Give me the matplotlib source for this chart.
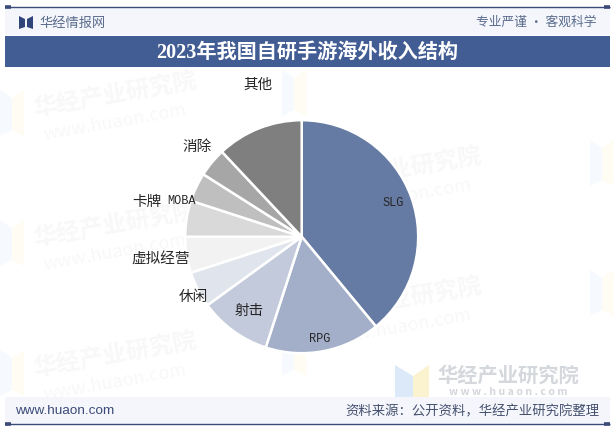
import matplotlib
matplotlib.use("Agg")
import matplotlib.pyplot as plt
from matplotlib.patches import Rectangle, Polygon

CJK = ['Noto Sans CJK SC', 'DejaVu Sans']
SERIF_CJK = ['Liberation Serif', 'Noto Sans CJK SC']
plt.rcParams['font.family'] = CJK

categories = ['SLG', 'RPG', '射击', '休闲', '虚拟经营', '卡牌', 'MOBA', '消除', '其他']
shares = [39, 16, 10, 5, 5, 5, 4, 4, 12]
colors = ['#667BA3', '#A3AFC8', '#C2CADB', '#E0E4ED', '#F2F2F2',
          '#D9D9D9', '#BFBFBF', '#A6A6A6', '#7F7F7F']
title = '2023年我国自研手游海外收入结构'

W, H = 615, 436
fig = plt.figure(figsize=(W / 100, H / 100), dpi=100, facecolor='white')

bg = fig.add_axes([0, 0, 1, 1], zorder=0)
bg.set_xlim(0, W)
bg.set_ylim(H, 0)
bg.axis('off')

NAVY = '#3B4A78'
# bands
bg.add_patch(Rectangle((5, 8), 605, 27, fc='#F4F6FB', ec='none'))
bg.add_patch(Rectangle((5, 36), 605, 31, fc='#425C94', ec='none'))
bg.add_patch(Rectangle((5, 397), 605, 27, fc='#F4F6FB', ec='none', zorder=0.7))
# rules with thick ends
for y in (7.5, 424):
    bg.plot([5, 610], [y, y], color=NAVY, lw=1.0, solid_capstyle='butt', zorder=2)
    bg.plot([5, 11], [y, y], color=NAVY, lw=2.6, solid_capstyle='butt', zorder=2)
    bg.plot([604, 610], [y, y], color=NAVY, lw=2.6, solid_capstyle='butt', zorder=2)

# watermarks
WM = '#F8F8F9'
for x, y in [(115, 95), (115, 225), (115, 355), (400, 170), (400, 300)]:
    bg.text(x, y, '华经产业研究院', fontsize=17, fontweight='bold', color=WM, rotation=10,
            ha='center', va='center', zorder=0.5)
    bg.text(x, y + 27, 'www.huaon.com', fontsize=13, color=WM, rotation=10,
            ha='center', va='center', zorder=0.5)
for x, y in [(0, 90), (0, 220), (0, 350), (282, 70), (282, 200), (282, 330), (590, 140), (590, 270)]:
    bg.add_patch(Polygon([(x, y), (x + 12, y + 8), (x + 12, y + 40), (x, y + 46)], fc='#F6F9FD', ec='none', zorder=0.5))
    bg.add_patch(Polygon([(x + 12, y + 8), (x + 24, y), (x + 24, y + 46), (x + 12, y + 40)], fc='#FEFCF3', ec='none', zorder=0.5))

# bottom-right logo watermark
bg.add_patch(Polygon([(395, 365), (413, 376), (413, 397), (395, 397)], fc='#DCE9F8', ec='none', zorder=0.6))
bg.add_patch(Polygon([(413, 376), (429, 365), (429, 397), (413, 397)], fc='#FBF2CF', ec='none', zorder=0.6))
bg.text(508, 375, '华经产业研究院', fontsize=14.6, fontweight='bold', color='#D4D7DC',
        ha='center', va='center', zorder=0.6)
bg.text(508, 392, 'w w w . h u a o n . c o m', fontsize=7.6, fontweight='bold', color='#D4D7DC',
        ha='center', va='center', zorder=0.8)

# header / footer text
bg.add_patch(Polygon([(19, 16), (25, 19), (25, 27), (19, 29)], fc='#2F4478', ec='none'))
bg.add_patch(Polygon([(27, 19), (33, 16), (33, 29), (27, 27)], fc='#2F4478', ec='none'))
bg.text(39, 23, '华经情报网', fontsize=9.5, color='#5A6B8C', va='center', ha='left')
bg.text(597, 22, '专业严谨 • 客观科学', fontsize=9.2, color='#5A6B8C', va='center', ha='right')
bg.text(307, 53, title, fontsize=14.5, fontweight='bold', color='white', va='center', ha='center',
        family=SERIF_CJK)
bg.text(15, 411, 'www.huaon.com', fontsize=9.7, color='#3B4A78', va='center', ha='left', family='Liberation Sans', zorder=1)
bg.text(600, 411, '资料来源：公开资料，华经产业研究院整理', fontsize=9.6, color='#44506E', va='center', ha='right', zorder=1)

# pie
cx, cy, r = 301.7, 236.7, 116.5
ax = fig.add_axes([(cx - r) / W, 1 - (cy + r) / H, 2 * r / W, 2 * r / H], zorder=1)
ax.pie(shares, colors=colors, startangle=90, counterclock=False, radius=1.0,
       wedgeprops=dict(edgecolor='white', linewidth=1.8))
ax.set_xlim(-1, 1)
ax.set_ylim(-1, 1)
ax.set_aspect('equal')
ax.patch.set_alpha(0)

# labels on top
lab = fig.add_axes([0, 0, 1, 1], zorder=2)
lab.set_xlim(0, W)
lab.set_ylim(H, 0)
lab.axis('off')
label_pos = [(393, 203), (320, 339), (249, 311), (193, 297), (161, 260),
             (147, 202), (181, 201), (197, 147), (258, 85)]
for name, (x, y) in zip(categories, label_pos):
    latin = name.isascii()
    lab.text(x, y, name, ha='center', va='center', color='#262626',
             fontsize=8.6 if latin else 10.5,
             family='Liberation Mono' if latin else CJK)

fig.savefig('out.png', dpi=100, facecolor='white')
